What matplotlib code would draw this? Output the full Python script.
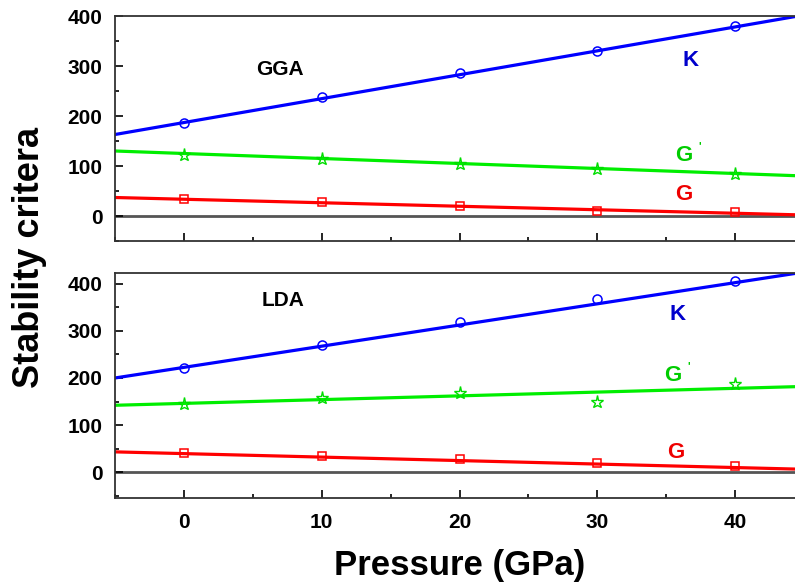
import numpy as np
import matplotlib
matplotlib.use("Agg")
import matplotlib.pyplot as plt
from matplotlib.ticker import MultipleLocator

plt.rcParams['font.family'] = ['Liberation Sans', 'DejaVu Sans']
plt.rcParams['font.weight'] = 'bold'

pressure = [0, 10, 20, 30, 40]

# GGA data points
gga_K = [186, 238, 286, 331, 380]
gga_Gp = [123, 115, 105, 95, 85]
gga_G = [35, 28, 20, 10, 8]
# LDA data points
lda_K = [222, 271, 318, 367, 405]
lda_Gp = [145, 157, 168, 148, 188]
lda_G = [40, 35, 27, 20, 12]

# fitted lines (endpoints)
fit_x = [-5, 45]
gga_K_fit = [163, 402]
gga_Gp_fit = [130, 80]
gga_G_fit = [37, 2]
lda_K_fit = [200, 425]
lda_Gp_fit = [142, 182]
lda_G_fit = [43, 6]

fig = plt.figure(figsize=(7.95, 5.88), dpi=100)
ax1 = fig.add_axes([115/795, 1-241/588, (804-115)/795, 225/588])
ax2 = fig.add_axes([115/795, 1-498/588, (804-115)/795, 225/588])

def draw(ax, K, Gp, G, Kf, Gpf, Gf, ylim):
    ax.axhline(0, color='#555555', lw=2, zorder=1)
    ax.plot(fit_x, Kf, color='#0000ff', lw=2.3, zorder=2)
    ax.plot(fit_x, Gpf, color='#00ee00', lw=2.3, zorder=2)
    ax.plot(fit_x, Gf, color='#ff0000', lw=2.3, zorder=2)
    ax.plot(pressure, K, 'o', mfc='none', mec='#0000ff', ms=6.5, mew=1.1, zorder=3)
    ax.plot(pressure, Gp, '*', mfc='none', mec='#00dd00', ms=9.5, mew=1.0, zorder=3)
    ax.plot(pressure, G, 's', mfc='none', mec='#ff0000', ms=6, mew=1.1, zorder=3)
    ax.set_xlim(-5, 45)
    ax.set_ylim(*ylim)
    ax.xaxis.set_major_locator(MultipleLocator(10))
    ax.xaxis.set_minor_locator(MultipleLocator(5))
    ax.yaxis.set_major_locator(MultipleLocator(100))
    ax.yaxis.set_minor_locator(MultipleLocator(50))
    ax.tick_params(which='both', direction='in', width=1.2, labelsize=15)
    ax.tick_params(which='major', length=6)
    ax.tick_params(which='minor', length=3)
    ax.tick_params(axis='y', which='major', pad=9)
    ax.tick_params(axis='x', which='major', pad=11)
    for s in ax.spines.values():
        s.set_linewidth(1.3)
        s.set_color('#333333')
    for lab in ax.get_yticklabels() + ax.get_xticklabels():
        lab.set_fontweight('bold')

draw(ax1, gga_K, gga_Gp, gga_G, gga_K_fit, gga_Gp_fit, gga_G_fit, (-50, 400))
draw(ax2, lda_K, lda_Gp, lda_G, lda_K_fit, lda_Gp_fit, lda_G_fit, (-55, 423))
ax1.set_yticks([0, 100, 200, 300, 400])
ax2.set_yticks([0, 100, 200, 300, 400])
ax1.tick_params(axis='x', labelbottom=False)

ax1.text(7, 293, 'GGA', fontsize=15, fontweight='bold', ha='center', va='center')
ax1.text(36.8, 312, 'K', fontsize=16, fontweight='bold', color='#0000cc', ha='center', va='center')
ax1.text(36.3, 122, "G", fontsize=16, fontweight='bold', color='#00cc00', ha='center', va='center')
ax1.text(37.4, 140, "'", fontsize=8, fontweight='bold', color='#00cc00', ha='center', va='center')
ax1.text(36.3, 43, 'G', fontsize=16, fontweight='bold', color='#ee0000', ha='center', va='center')

ax2.text(7.2, 365, 'LDA', fontsize=15, fontweight='bold', ha='center', va='center')
ax2.text(35.8, 335, 'K', fontsize=16, fontweight='bold', color='#0000cc', ha='center', va='center')
ax2.text(35.5, 205, "G", fontsize=16, fontweight='bold', color='#00cc00', ha='center', va='center')
ax2.text(36.6, 225, "'", fontsize=8, fontweight='bold', color='#00cc00', ha='center', va='center')
ax2.text(35.7, 42, 'G', fontsize=16, fontweight='bold', color='#ee0000', ha='center', va='center')

ax2.set_xlabel('Pressure (GPa)', fontsize=25, fontweight='bold', labelpad=12)
fig.text(30/795, 1-257/588, 'Stability critera', rotation=90, fontsize=26,
         fontweight='bold', ha='center', va='center')

fig.savefig('out.png', dpi=100)
